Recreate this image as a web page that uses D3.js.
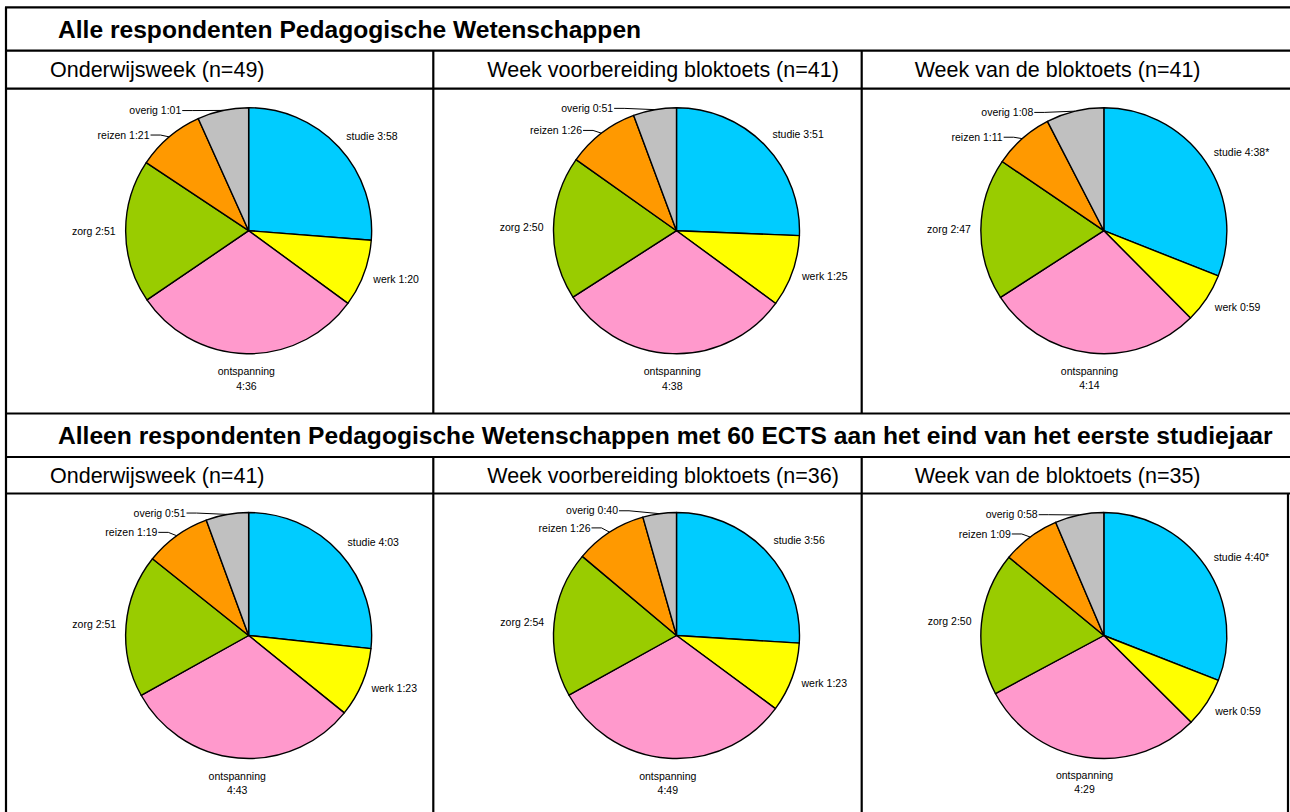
<!DOCTYPE html>
<html>
<head>
<meta charset="utf-8">
<script src="https://cdn.jsdelivr.net/npm/d3@7"></script>
<style>
  body { margin: 0; background: #fff; }
  text { font-family: "Liberation Sans", Arial, sans-serif; fill: #000; }
</style>
</head>
<body>
<div id="chart"></div>
<script>
// categories and colours (clockwise from 12 o'clock)
const categories = ["studie", "werk", "ontspanning", "zorg", "reizen", "overig"];
const sliceColors = ["#00CCFF", "#FFFF00", "#FF99CC", "#99CC00", "#FF9900", "#C0C0C0"];

const sectionTitles = [
  "Alle respondenten Pedagogische Wetenschappen",
  "Alleen respondenten Pedagogische Wetenschappen met 60 ECTS aan het eind van het eerste studiejaar"
];

const panelTitlesAll = ["Onderwijsweek (n=49)", "Week voorbereiding bloktoets (n=41)", "Week van de bloktoets (n=41)"];
const panelTitles60 = ["Onderwijsweek (n=41)", "Week voorbereiding bloktoets (n=36)", "Week van de bloktoets (n=35)"];

// hours:minutes per category, per week
const allOnderwijs   = ["3:58", "1:20", "4:36", "2:51", "1:21", "1:01"];
const allVoorbereid  = ["3:51", "1:25", "4:38", "2:50", "1:26", "0:51"];
const allBloktoets   = ["4:38", "0:59", "4:14", "2:47", "1:11", "1:08"];
const ects60Onderwijs  = ["4:03", "1:23", "4:43", "2:51", "1:19", "0:51"];
const ects60Voorbereid = ["3:56", "1:23", "4:49", "2:54", "1:26", "0:40"];
const ects60Bloktoets  = ["4:40", "0:59", "4:29", "2:50", "1:09", "0:58"];

// significance marker on the studie label per week
const studieMarks = ["", "", "*"];

const width = 1290, height = 812;

const svg = d3.select("#chart").append("svg")
  .attr("width", width)
  .attr("height", height);

svg.append("rect").attr("width", width).attr("height", height).attr("fill", "#fff");

// table grid
const xLeft = 6, xRight = 1288;
const colX = [xLeft, 433.3, 861.7, xRight];
const titleIndent = [44, 54, 53];
const blocks = [
  {top: 7.3, sub: 50.7, pies: 88.7, bottom: 413.5, titles: panelTitlesAll,
   data: [allOnderwijs, allVoorbereid, allBloktoets]},
  {top: 413.5, sub: 457, pies: 493.5, bottom: 830, titles: panelTitles60,
   data: [ects60Onderwijs, ects60Voorbereid, ects60Bloktoets]}
];

const toMinutes = s => { let p = s.split(":"); return +p[0] * 60 + +p[1]; };

const grid = svg.append("g").attr("class", "grid")
  .attr("stroke", "#000").attr("stroke-width", 2.2);

blocks.forEach((b, bi) => {
  // horizontal rules
  [b.top, b.sub, b.pies].forEach(y => {
    grid.append("line").attr("x1", xLeft - 1).attr("x2", width).attr("y1", y).attr("y2", y);
  });
  // verticals: left edge and column dividers below the section header
  grid.append("line").attr("x1", xLeft).attr("x2", xLeft).attr("y1", b.top).attr("y2", b.bottom);
  [colX[1], colX[2]].forEach(x => {
    grid.append("line").attr("x1", x).attr("x2", x).attr("y1", b.sub).attr("y2", b.bottom);
  });
  if (bi === 1) {
    grid.append("line").attr("x1", xRight).attr("x2", xRight).attr("y1", b.pies).attr("y2", b.bottom);
  }

  // section header
  svg.append("text")
    .attr("x", 58)
    .attr("y", (b.top + b.sub) / 2)
    .attr("dy", "0.35em")
    .style("font-weight", "bold")
    .style("font-size", "24.6px")
    .text(sectionTitles[bi]);

  b.titles.forEach((t, ci) => {
    svg.append("text")
      .attr("x", colX[ci] + titleIndent[ci])
      .attr("y", (b.sub + b.pies) / 2)
      .attr("dy", "0.35em")
      .style("font-size", "21.5px")
      .text(t);

    let cx = (colX[ci] + colX[ci + 1]) / 2 + 29;
    let cy = b.pies + 142;
    drawPie(cx, cy, 123, b.data[ci], studieMarks[ci]);
  });
});

function drawPie(cx, cy, r, times, mark) {
  let rows = categories.map((c, i) => ({
    name: c, time: times[i], value: toMinutes(times[i]), color: sliceColors[i]
  }));

  let pie = d3.pie().sort(null).value(d => d.value);
  let arc = d3.arc().innerRadius(0).outerRadius(r);
  let arcs = pie(rows);

  let g = svg.append("g").attr("transform", "translate(" + [cx, cy] + ")");

  g.selectAll("path")
    .data(arcs)
    .enter().append("path")
    .attr("d", arc)
    .attr("fill", d => d.data.color)
    .attr("stroke", "#000")
    .attr("stroke-width", 1.4)
    .attr("stroke-linejoin", "round");

  // labels with leader lines for the small slices at the top
  let leaderShift = {reizen: 0.1, overig: 0.3};

  arcs.forEach(d => {
    let mid = (d.startAngle + d.endAngle) / 2;
    let label = d.data.name + " " + d.data.time + (d.data.name === "studie" ? mark : "");

    if (leaderShift[d.data.name] !== undefined) {
      let a = mid - leaderShift[d.data.name];
      let R = r * 1.12;
      let x = R * Math.sin(a), y = -R * Math.cos(a);
      let ex = r * Math.sin(mid), ey = -r * Math.cos(mid);
      g.append("polyline")
        .attr("points", [[x + 1, y], [x + 11, y], [ex, ey]].map(p => p.join(",")).join(" "))
        .attr("fill", "none")
        .attr("stroke", "#000")
        .attr("stroke-width", 1);
      g.append("text")
        .attr("x", x)
        .attr("y", y)
        .attr("dy", "0.35em")
        .attr("text-anchor", "end")
        .style("font-size", "10.5px")
        .text(label);
      return;
    }

    let R = r + 10;
    let s = Math.sin(mid), c = Math.cos(mid);
    let x = R * s, y = -R * c - c * 6;
    if (Math.abs(s) < 0.35) {
      let t = g.append("text")
        .attr("x", x)
        .attr("y", y + 2)
        .attr("dy", "0.35em")
        .attr("text-anchor", "middle")
        .style("font-size", "10.5px");
      t.append("tspan").attr("x", x).text(d.data.name);
      t.append("tspan").attr("x", x).attr("dy", 14.5).text(d.data.time);
    } else {
      g.append("text")
        .attr("x", x)
        .attr("y", y)
        .attr("dy", "0.35em")
        .attr("text-anchor", s > 0 ? "start" : "end")
        .style("font-size", "10.5px")
        .text(label);
    }
  });
}
</script>
</body>
</html>
